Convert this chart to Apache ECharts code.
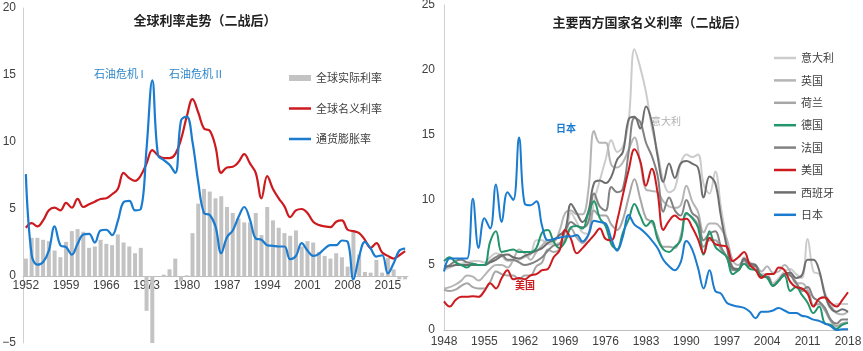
<!DOCTYPE html>
<html>
<head>
<meta charset="utf-8">
<script src="https://cdn.jsdelivr.net/npm/echarts@6/dist/echarts.min.js"></script>
<style>
  html, body { margin: 0; padding: 0; background: #fff; }
  #chart { width: 863px; height: 351px; }
</style>
</head>
<body>
<div id="chart"></div>
<script>
// 左图：全球利率走势（1952-2018）
const leftYears = [];
for (let y = 1952; y <= 2018; y++) leftYears.push(String(y));

const realRate = [
  1.3, 2.85, 2.85, 2.7, 2.6, 1.9, 1.4, 2.55, 3.35, 3.5, 3.3, 2.1, 2.2, 2.7, 2.4, 2.3, 3.1, 2.5, 2.2, 1.7, 2.1,
  -2.6, -5.0, 0, 0.1, 0.5, 1.3, -0.4, 0.05, 3.2, 5.4, 6.5, 6.3, 5.8, 5.95, 5.15, 4.7, 4.3, 4.0, 4.0, 4.7, 3.05, 5.15, 4.15, 3.6,
  3.2, 3.0, 3.4, 2.2, 2.6, 2.5, 1.8, 1.5, 1.3, 1.7, 1.4, 0.7, 3.4, 1.6, 0.3, 0.25, 1.2, 0.25, 1.35, 0.5, -0.25, -0.25
];
const nominalRate = [
  3.6, 3.95, 3.7, 4.15, 4.9, 5.1, 4.9, 5.45, 5.1, 5.75, 5.15, 5.35, 5.55, 5.75, 5.8, 6.1, 6.5, 7.7, 7.3, 7.1, 7.5,
  8.4, 9.4, 9.0, 8.8, 8.8, 9.1, 10.2, 11.9, 13.2, 12.2, 11.0, 10.85, 9.65, 7.7, 8.1, 8.15, 8.5, 9.1, 8.4, 7.7, 5.8, 7.45, 6.5, 5.8,
  5.2, 4.4, 4.9, 5.0, 4.7, 4.05, 3.8, 3.7, 3.65, 4.05, 4.15, 3.45, 3.35, 3.2, 2.7, 2.1, 2.45, 1.75, 1.5, 1.3, 1.55, 1.85
];
const inflation = [
  7.6, 1.6, 0.85, 1.05, 1.9, 3.7, 2.3, 2.15, 1.6, 2.4, 3.1, 3.15, 2.5, 3.4, 3.45, 3.05, 4.1, 5.5, 5.6, 4.9, 5.0,
  9.5, 14.6, 9.0, 8.65, 8.3, 7.7, 11.6, 11.9, 10.0, 7.0, 4.7, 4.55, 3.7, 1.7, 2.9, 3.4, 4.4, 5.15, 4.2, 2.8, 2.7, 2.3, 2.25, 2.2,
  2.2, 1.25, 1.5, 2.45, 1.9, 1.5, 1.65, 2.05, 2.3, 2.3, 2.65, 2.55, -0.25, 1.45, 2.55, 2.05, 1.45, 1.55, 0.2, 0.95, 1.9, 2.05
];

// 右图：主要西方国家名义利率（1948-2018）
const rightYears = [];
for (let y = 1948; y <= 2018; y++) rightYears.push(String(y));

const italy = [
  4.6, 4.8, 5.0, 5.1, 5.2, 5.3, 5.3, 5.2, 5.6, 5.9,
  5.7, 5.3, 5.3, 5.4, 5.6, 5.8, 6.9, 6.9, 6.6, 6.6,
  6.7, 6.9, 9.0, 8.3, 7.5, 7.4, 9.9, 11.5, 13.1, 14.6,
  13.7, 14.1, 16.1, 21.6, 20.2, 18.3, 15.6, 13.7, 11.5, 10.6,
  10.9, 12.8, 13.5, 13.3, 13.5, 11.2, 10.5, 12.2, 9.4, 6.9,
  4.9, 4.7, 5.6, 5.2, 5.0, 4.3, 4.3, 3.6, 4.0, 4.5,
  4.7, 4.3, 4.0, 7.0, 4.5, 4.3, 2.9, 1.7, 2.0, 2.0, 2.0
];
const uk = [
  3.2, 3.3, 3.5, 3.8, 4.2, 4.1, 3.8, 4.2, 4.7, 5.0,
  5.0, 4.8, 5.4, 6.2, 5.9, 5.4, 6.0, 6.5, 6.9, 6.8,
  7.6, 9.0, 9.2, 8.9, 8.9, 10.7, 15.3, 14.4, 14.4, 12.7,
  12.5, 12.9, 13.9, 14.8, 12.9, 10.8, 10.7, 10.6, 9.9, 9.5,
  9.4, 9.6, 11.1, 9.9, 9.1, 7.5, 8.2, 8.2, 7.8, 7.0,
  5.4, 5.0, 5.3, 4.9, 4.9, 4.5, 4.9, 4.4, 4.5, 5.0,
  4.5, 3.6, 3.6, 3.1, 1.9, 2.4, 2.6, 1.9, 1.3, 1.2, 1.4
];
const netherlands = [
  3.1, 3.0, 3.1, 3.4, 3.6, 3.3, 3.2, 3.2, 3.7, 4.5,
  4.3, 4.2, 4.2, 3.9, 4.2, 4.2, 4.9, 5.2, 6.2, 6.0,
  6.2, 7.0, 7.8, 7.1, 6.7, 7.3, 9.2, 8.8, 8.8, 8.1,
  7.7, 8.5, 10.2, 11.6, 10.1, 8.6, 8.3, 7.3, 6.4, 6.4,
  6.3, 7.2, 8.9, 8.7, 8.1, 6.4, 6.9, 6.9, 6.2, 5.6,
  4.6, 4.6, 5.4, 5.0, 4.9, 4.1, 4.1, 3.4, 3.8, 4.3,
  4.2, 3.7, 3.0, 3.0, 1.9, 2.0, 1.5, 0.7, 0.3, 0.5, 0.6
];
const germany = [
  5.3, 5.6, 5.2, 5.0, 4.8, 5.1, 5.0, 5.0, 6.8, 7.6,
  6.0, 6.1, 6.2, 6.0, 6.0, 6.0, 6.3, 7.5, 7.7, 6.8,
  6.3, 6.8, 7.9, 8.0, 7.8, 9.0, 9.9, 8.6, 8.0, 6.6,
  6.2, 7.5, 8.5, 9.7, 8.8, 8.0, 8.4, 7.0, 6.2, 6.0,
  6.4, 6.9, 9.0, 8.6, 7.9, 5.8, 7.6, 6.4, 6.0, 5.6,
  4.3, 4.6, 5.1, 4.7, 4.6, 4.2, 4.0, 3.4, 3.8, 4.2,
  3.0, 3.3, 2.7, 2.1, 1.3, 1.8, 0.5, 0.4, 0.1, 0.4, 0.55
];
const france = [
  4.7, 5.0, 5.3, 5.4, 5.2, 5.1, 5.0, 5.0, 5.3, 5.6,
  5.8, 5.4, 5.4, 5.2, 5.0, 5.1, 5.3, 5.6, 6.1, 6.5,
  6.6, 7.6, 8.3, 8.0, 7.9, 8.3, 10.5, 9.5, 9.2, 11.0,
  10.6, 10.9, 13.7, 16.3, 16.0, 14.4, 13.4, 11.9, 9.1, 10.2,
  9.2, 8.8, 10.0, 9.0, 8.6, 6.9, 7.4, 7.6, 6.4, 5.6,
  4.7, 4.6, 5.4, 4.9, 4.9, 4.1, 4.1, 3.4, 3.8, 4.3,
  4.2, 3.6, 3.1, 3.3, 2.5, 2.2, 1.7, 0.8, 0.5, 0.8, 0.8
];
const usa = [
  2.2, 1.8, 2.3, 2.55, 2.55, 2.6, 2.55, 3.0, 3.6, 3.2,
  4.0, 4.6, 3.9, 4.0, 3.9, 4.2, 4.3, 4.6, 4.7, 5.6,
  6.1, 7.7, 7.0, 5.9, 6.3, 6.8, 7.3, 7.8, 7.0, 6.9,
  8.4, 10.4, 12.3, 13.9, 13.0, 11.1, 12.4, 10.6, 7.7, 8.4,
  8.8, 8.5, 8.55, 7.9, 7.0, 5.9, 7.1, 6.6, 6.5, 6.4,
  5.3, 5.6, 6.0, 5.0, 4.6, 4.0, 4.3, 4.3, 4.8, 4.6,
  3.7, 3.3, 3.2, 2.8, 1.8, 2.4, 2.5, 2.1, 1.8, 2.3, 2.9
];
const spain = [
  4.9, 4.9, 5.0, 5.0, 5.0, 5.0, 5.0, 5.0, 5.2, 5.4,
  5.7, 5.8, 5.6, 5.5, 5.7, 5.9, 6.1, 6.3, 6.7, 6.9,
  7.3, 7.7, 9.7, 9.0, 8.3, 9.1, 11.3, 11.5, 11.3, 11.8,
  13.1, 13.7, 16.2, 16.4, 15.5, 17.2, 16.0, 13.4, 11.4, 12.8,
  11.7, 12.8, 13.0, 12.8, 12.5, 10.2, 11.8, 11.3, 8.7, 6.4,
  4.8, 4.7, 5.5, 5.1, 5.0, 4.1, 4.1, 3.4, 3.8, 4.3,
  4.4, 4.0, 4.2, 5.4, 5.4, 4.6, 2.7, 1.7, 1.4, 1.6, 1.4
];
const japan = [
  4.5, 5.5, 5.5, 5.5, 5.5, 10.1, 6.3, 8.6, 7.8, 11.2,
  8.3, 10.6, 10.0, 14.8, 9.7, 9.6, 9.9, 8.0, 6.9, 7.0,
  7.1, 7.2, 7.2, 7.3, 6.8, 7.3, 8.4, 8.3, 8.2, 7.0,
  6.1, 7.2, 8.85, 8.1, 7.8, 7.4, 6.9, 6.3, 5.4, 4.9,
  4.6, 5.2, 6.85, 6.2, 4.8, 3.2, 4.6, 3.0, 2.8, 2.1,
  1.9, 1.8, 1.7, 1.4, 0.9, 1.4, 1.4, 1.5, 1.7, 1.5,
  1.3, 1.3, 1.1, 1.0, 0.8, 0.7, 0.5, 0.3, 0.0, 0.05, 0.05
];

const cjk = '"Noto Sans CJK SC", sans-serif';
const num = '"Liberation Sans", Arial, sans-serif';
const legendText = { fontFamily: cjk, fontSize: 11, color: '#404040', lineHeight: 14 };

function countryLine(name, data, color, z) {
  return {
    name: name,
    type: 'line',
    xAxisIndex: 1,
    yAxisIndex: 1,
    data: data,
    smooth: 0.4,
    symbol: 'none',
    z: z,
    lineStyle: { color: color, width: 2 },
    itemStyle: { color: color }
  };
}

const chart = echarts.init(document.getElementById('chart'), null, { renderer: 'canvas' });

const option = {
  animation: false,
  backgroundColor: '#fff',
  title: [
    {
      text: '全球利率走势（二战后）',
      left: 200, top: 9, textAlign: 'center',
      textStyle: { fontFamily: cjk, fontSize: 13, fontWeight: 'bold', color: '#222' }
    },
    {
      text: '主要西方国家名义利率（二战后）',
      left: 645, top: 11, textAlign: 'center',
      textStyle: { fontFamily: cjk, fontSize: 13, fontWeight: 'bold', color: '#222' }
    }
  ],
  legend: [
    {
      orient: 'vertical',
      left: 284, top: 66,
      itemWidth: 22, itemHeight: 6,
      textStyle: legendText,
      data: [{ name: '全球实际利率', icon: 'rect' }]
    },
    {
      orient: 'vertical',
      left: 284, top: 96.5,
      icon: 'rect', itemWidth: 22, itemHeight: 2.5, itemGap: 16.5,
      textStyle: legendText,
      data: ['全球名义利率', '通货膨胀率']
    },
    {
      orient: 'vertical',
      left: 769, top: 46,
      icon: 'rect', itemWidth: 22, itemHeight: 2.5, itemGap: 8.4,
      textStyle: legendText,
      data: ['意大利', '英国', '荷兰', '德国', '法国', '美国', '西班牙', '日本']
    }
  ],
  grid: [
    { left: 23, top: 8, width: 385, height: 335, containLabel: false, outerBoundsMode: 'none' },
    { left: 444, top: 5, width: 404, height: 325, containLabel: false, outerBoundsMode: 'none' }
  ],
  xAxis: [
    {
      type: 'category', gridIndex: 0, data: leftYears, boundaryGap: true,
      offset: -67,
      axisLine: { onZero: false, lineStyle: { color: '#bfbfbf' } },
      axisTick: { show: false },
      axisLabel: { interval: 6, margin: 4, fontFamily: num, fontSize: 12, color: '#404040' },
      splitLine: { show: false }
    },
    {
      type: 'category', gridIndex: 1, data: rightYears, boundaryGap: false,
      axisLine: { lineStyle: { color: '#bfbfbf' } },
      axisTick: { show: false },
      axisLabel: { interval: 6, margin: 6, fontFamily: num, fontSize: 12, color: '#404040' },
      splitLine: { show: false }
    }
  ],
  yAxis: [
    {
      type: 'value', gridIndex: 0, min: -5, max: 20, interval: 5,
      axisLine: { show: true, lineStyle: { color: '#d0d0d0' } },
      axisTick: { show: false },
      axisLabel: { margin: 7, fontFamily: num, fontSize: 12, color: '#404040',
        formatter: v => (v < 0 ? '\u2212' + Math.abs(v) : String(v)) },
      splitLine: { show: false }
    },
    {
      type: 'value', gridIndex: 1, min: 0, max: 25, interval: 5,
      axisLine: { show: true, lineStyle: { color: '#d0d0d0' } },
      axisTick: { show: false },
      axisLabel: { margin: 9, fontFamily: num, fontSize: 12, color: '#404040' },
      splitLine: { show: false }
    }
  ],
  series: [
    {
      name: '全球实际利率', type: 'bar', xAxisIndex: 0, yAxisIndex: 0,
      data: realRate, barWidth: 4, itemStyle: { color: '#c3c3c3' }, z: 1
    },
    {
      name: '全球名义利率', type: 'line', xAxisIndex: 0, yAxisIndex: 0,
      data: nominalRate, smooth: 0.4, symbol: 'none', z: 3,
      lineStyle: { color: '#cc1a1f', width: 2.2 }, itemStyle: { color: '#cc1a1f' }
    },
    {
      name: '通货膨胀率', type: 'line', xAxisIndex: 0, yAxisIndex: 0,
      data: inflation, smooth: 0.4, symbol: 'none', z: 4,
      lineStyle: { color: '#1a7bcf', width: 2.2 }, itemStyle: { color: '#1a7bcf' }
    },
    countryLine('意大利', italy, '#cccccc', 2),
    countryLine('英国', uk, '#b5b5b5', 2),
    countryLine('荷兰', netherlands, '#a6a6a6', 2),
    countryLine('德国', germany, '#23956a', 4),
    countryLine('法国', france, '#828282', 3),
    countryLine('美国', usa, '#cc1a1f', 5),
    countryLine('西班牙', spain, '#6e6e6e', 3),
    countryLine('日本', japan, '#1a7bcf', 6)
  ],
  graphic: [
    { type: 'text', left: 94, top: 68, style: { text: '石油危机 I', fontFamily: cjk, fontSize: 11, fill: '#2e86c9' } },
    { type: 'text', left: 169, top: 68, style: { text: '石油危机 II', fontFamily: cjk, fontSize: 11, fill: '#2e86c9' } },
    { type: 'text', left: 556, top: 123, style: { text: '日本', fontFamily: cjk, fontSize: 10, fontWeight: 'bold', fill: '#1a7bcf' } },
    { type: 'text', left: 651, top: 116, style: { text: '意大利', fontFamily: cjk, fontSize: 10, fill: '#b0b0b0' } },
    { type: 'text', left: 515, top: 280, style: { text: '美国', fontFamily: cjk, fontSize: 10, fontWeight: 'bold', fill: '#cc1a1f' } }
  ]
};

chart.setOption(option);
</script>
</body>
</html>
